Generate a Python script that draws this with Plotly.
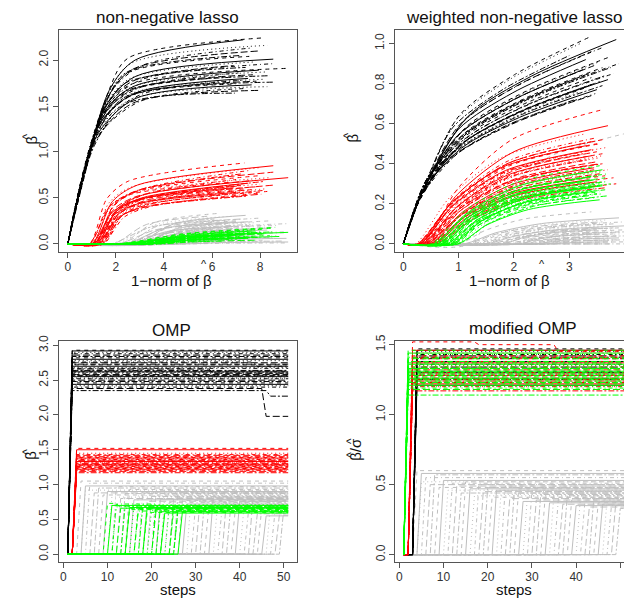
import plotly.graph_objects as go

# ================= DATA =================
# ---- top-left: non-negative lasso (x = 1-norm of beta-hat) ----
nnl_blk_split = [1.75, 1.72, 1.68, 1.64, 1.62, 1.58, 1.60, 1.52, 1.55, 1.50, 1.52, 1.48, 1.42, 1.46, 1.44,
                 1.45, 1.40, 1.38, 1.42, 1.36, 1.35, 1.30, 1.34, 1.26, 1.28, 1.22, 1.25, 1.18, 1.15, 1.10]
nnl_blk_knee_x = [2.5, 2.8, 2.6, 3.0, 2.7, 2.4]
nnl_blk_knee_y = [2.02, 2.00, 1.96, 1.93, 1.90, 1.86, 1.86, 1.82, 1.80, 1.78, 1.77, 1.75, 1.72, 1.72, 1.70,
                  1.70, 1.68, 1.66, 1.66, 1.64, 1.63, 1.62, 1.62, 1.60, 1.60, 1.58, 1.57, 1.55, 1.53, 1.52]
nnl_blk_end_x = [8.05, 7.30, 8.30, 7.60, 8.00, 7.20, 7.55, 8.55, 7.80, 8.50, 6.90, 7.40, 9.17, 7.95, 8.20,
                 7.10, 7.70, 8.40, 6.80, 7.50, 8.10, 7.25, 7.85, 8.60, 7.00, 7.65, 8.30, 7.35, 8.00, 6.95]
nnl_blk_end_y = [2.24, 2.22, 2.16, 2.13, 2.10, 2.05, 2.04, 2.01, 1.98, 1.96, 1.94, 1.92, 1.91, 1.89, 1.87,
                 1.86, 1.84, 1.83, 1.82, 1.80, 1.79, 1.78, 1.77, 1.76, 1.74, 1.73, 1.71, 1.69, 1.67, 1.64]

nnl_red_start = [0.90, 1.00, 0.95, 1.05, 1.10, 0.88, 1.15, 1.20, 1.00, 1.25, 1.10, 1.30, 0.92, 1.18, 1.35,
                 1.05, 1.40, 1.12, 1.28, 1.00, 1.45, 1.20, 1.30, 1.38, 1.50, 1.08, 1.25, 1.42, 1.33, 1.22]
nnl_red_rise = [1.6, 1.9, 1.7, 2.1, 1.8, 2.0]
nnl_red_knee_y = [0.68, 0.64, 0.62, 0.60, 0.58, 0.58, 0.56, 0.53, 0.55, 0.55, 0.52, 0.50, 0.53, 0.50, 0.49,
                  0.50, 0.47, 0.49, 0.47, 0.48, 0.44, 0.46, 0.45, 0.43, 0.42, 0.44, 0.42, 0.41, 0.40, 0.40]
nnl_red_end_x = [7.35, 8.55, 8.00, 7.60, 8.55, 7.20, 7.90, 9.17, 8.40, 7.00, 7.70, 8.20, 6.80, 7.50, 8.00,
                 7.30, 8.60, 7.10, 7.80, 6.90, 8.30, 7.40, 7.65, 8.10, 8.30, 7.00, 7.60, 7.90, 8.05, 7.45]
nnl_red_end_y = [0.88, 0.85, 0.83, 0.80, 0.78, 0.76, 0.74, 0.72, 0.72, 0.70, 0.69, 0.68, 0.67, 0.66, 0.65,
                 0.64, 0.64, 0.63, 0.62, 0.61, 0.60, 0.60, 0.59, 0.58, 0.57, 0.56, 0.56, 0.55, 0.54, 0.52]

nnl_grn_start = [2.2, 2.0, 2.6, 2.4, 2.8, 2.3, 3.0, 2.5, 2.9, 2.7, 3.2, 2.6, 2.5, 3.3, 3.0, 3.5, 2.9, 3.1,
                 3.6, 3.4, 3.8, 3.7, 3.2, 4.0, 2.1, 2.5, 2.8, 3.1, 2.4, 3.4, 2.7, 3.0, 3.6, 2.3]
nnl_grn_end_x = [8.63, 9.17, 7.70, 8.20, 7.40, 8.50, 6.90, 7.90, 7.20, 8.10, 6.60, 7.60, 8.40, 7.00, 7.80,
                 6.80, 7.30, 8.00, 6.50, 7.50, 7.10, 6.70, 7.90, 6.40, 8.50, 7.80, 8.00, 7.60, 8.30, 7.20,
                 6.90, 8.80, 7.40, 7.10]
nnl_grn_end_y = [0.18, 0.125, 0.15, 0.16, 0.14, 0.13, 0.12, 0.12, 0.11, 0.11, 0.10, 0.10, 0.09, 0.09, 0.08,
                 0.08, 0.07, 0.07, 0.06, 0.06, 0.05, 0.05, 0.04, 0.03, 0.17, 0.14, 0.13, 0.12, 0.11, 0.10,
                 0.09, 0.08, 0.07, 0.06]

nnl_gry_start = [2.2, 2.8, 2.0, 3.1, 2.5, 1.8, 3.4, 2.4, 3.0, 3.6, 2.1, 2.9, 3.3, 2.6, 3.2, 3.8, 2.7, 3.5,
                 2.3, 3.9, 3.1, 4.2, 2.8, 3.4, 3.7, 3.0, 4.4, 2.5, 3.6, 4.0, 3.3, 4.6, 3.5, 4.1, 3.0, 4.8,
                 3.8, 5.0, 4.3, 5.2, 1.9, 2.4, 2.7, 3.0, 3.3, 2.2, 3.6, 2.9, 4.0, 3.2, 2.6, 3.8, 4.5, 3.4]
nnl_gry_end_x = [6.2, 7.4, 6.8, 8.0, 7.2, 6.5, 8.4, 7.0, 7.8, 9.17, 6.6, 7.6, 8.2, 6.9, 7.4, 8.6, 7.1, 7.9,
                 6.4, 8.3, 7.5, 9.0, 6.7, 7.7, 8.1, 7.3, 8.8, 6.3, 7.8, 8.5, 7.0, 9.1, 7.6, 8.2, 6.6, 8.9,
                 7.3, 9.17, 8.0, 9.1, 5.8, 6.1, 7.0, 7.5, 6.6, 8.7, 6.9, 8.4, 7.7, 6.3, 7.2, 9.0, 8.1, 7.9]
nnl_gry_end_y = [0.33, 0.31, 0.30, 0.28, 0.27, 0.26, 0.25, 0.24, 0.23, 0.22, 0.22, 0.21, 0.20, 0.19, 0.18,
                 0.18, 0.17, 0.16, 0.15, 0.15, 0.14, 0.13, 0.12, 0.12, 0.11, 0.10, 0.09, 0.09, 0.08, 0.07,
                 0.06, 0.06, 0.05, 0.04, 0.04, 0.03, 0.02, 0.02, 0.01, 0.01, 0.30, 0.27, 0.25, 0.24, 0.21,
                 0.20, 0.19, 0.17, 0.16, 0.14, 0.13, 0.12, 0.10, 0.08]

# ---- top-right: weighted non-negative lasso ----
wnl_blk_split = [0.28, 0.34, 0.40, 0.31, 0.37, 0.44]
wnl_blk_end_x = [3.35, 3.85, 3.20, 3.60, 3.40, 3.00, 3.70, 3.30, 3.55, 3.90, 3.45, 3.75, 3.60, 3.25, 3.50,
                 3.80, 3.35, 3.65, 3.40, 3.70, 3.15, 3.55, 3.45, 3.60, 3.30, 3.50, 3.20, 3.47, 3.40, 3.10]
wnl_blk_end_y = [1.03, 1.02, 1.00, 0.98, 0.96, 0.94, 0.93, 0.92, 0.91, 0.90, 0.89, 0.88, 0.88, 0.87, 0.86,
                 0.85, 0.85, 0.84, 0.83, 0.82, 0.82, 0.81, 0.80, 0.79, 0.78, 0.77, 0.76, 0.75, 0.74, 0.72]

wnl_red_start = [0.35, 0.30, 0.22, 0.28, 0.25, 0.32, 0.30, 0.27, 0.35, 0.33, 0.38, 0.30, 0.40, 0.36, 0.42,
                 0.34, 0.45, 0.40, 0.38, 0.48, 0.44, 0.50, 0.42, 0.52, 0.47, 0.55, 0.50, 0.58, 0.60, 0.62,
                 0.25, 0.30, 0.38, 0.45, 0.33, 0.50, 0.40, 0.56]
wnl_red_end_x = [3.60, 3.70, 3.30, 3.50, 3.60, 3.40, 3.55, 3.30, 3.65, 3.45, 3.50, 3.25, 3.60, 3.40, 3.55,
                 3.35, 3.50, 3.60, 3.30, 3.45, 3.70, 3.40, 3.55, 3.50, 3.80, 3.35, 3.60, 3.85, 3.50, 3.65,
                 3.50, 3.40, 3.60, 3.30, 3.55, 3.45, 3.65, 3.50]
wnl_red_end_y = [0.67, 0.59, 0.55, 0.53, 0.52, 0.51, 0.50, 0.49, 0.48, 0.47, 0.46, 0.45, 0.45, 0.44, 0.43,
                 0.42, 0.41, 0.40, 0.39, 0.38, 0.37, 0.36, 0.35, 0.34, 0.33, 0.32, 0.31, 0.30, 0.29, 0.28,
                 0.50, 0.47, 0.44, 0.42, 0.40, 0.37, 0.34, 0.31]

wnl_grn_start = [0.50, 0.55, 0.60, 0.52, 0.65, 0.58, 0.70, 0.62, 0.75, 0.68, 0.72, 0.80, 0.66, 0.78, 0.85,
                 0.74, 0.82, 0.90, 0.76, 0.88, 0.95, 0.84, 0.92, 1.00, 0.86, 0.98, 0.55, 0.62, 0.70, 0.60,
                 0.78, 0.68, 0.85, 0.72]
wnl_grn_end_x = [3.55, 3.60, 3.40, 3.70, 3.50, 3.30, 3.65, 3.45, 3.60, 3.35, 3.55, 3.75, 3.40, 3.60, 3.50,
                 3.30, 3.65, 3.45, 3.55, 3.40, 3.60, 3.50, 3.35, 3.70, 3.45, 3.55, 3.60, 3.50, 3.45, 3.65,
                 3.55, 3.40, 3.60, 3.50]
wnl_grn_end_y = [0.39, 0.37, 0.36, 0.35, 0.34, 0.33, 0.33, 0.32, 0.31, 0.31, 0.30, 0.30, 0.29, 0.29, 0.28,
                 0.28, 0.27, 0.27, 0.26, 0.26, 0.25, 0.25, 0.24, 0.24, 0.23, 0.22, 0.36, 0.34, 0.32, 0.31,
                 0.29, 0.28, 0.27, 0.25]

wnl_gry_start = [1.0, 1.1, 1.2, 1.3, 1.15, 1.4, 1.25, 1.5, 1.35, 1.6, 1.45, 1.7, 1.55, 1.8, 1.65, 1.9, 1.75,
                 2.0, 1.85, 2.1, 1.95, 2.2, 2.05, 2.3, 2.15, 2.4, 2.25, 2.5, 2.35, 2.6, 2.45, 2.7, 2.55,
                 2.8, 2.65, 2.9, 1.2]
wnl_gry_end_x = [3.4, 3.9, 3.7, 4.0, 3.6, 3.8, 3.5, 4.0, 3.7, 3.9, 3.6, 3.8, 4.0, 3.5, 3.75, 3.9, 3.65,
                 4.0, 3.8, 3.55, 3.95, 3.7, 3.85, 4.0, 3.6, 3.9, 3.75, 4.0, 3.65, 3.85, 4.0, 3.7, 3.9,
                 4.0, 3.8, 3.6, 4.0]
wnl_gry_end_y = [0.16, 0.13, 0.12, 0.11, 0.11, 0.10, 0.10, 0.09, 0.09, 0.08, 0.08, 0.08, 0.07, 0.07, 0.07,
                 0.06, 0.06, 0.06, 0.05, 0.05, 0.05, 0.04, 0.04, 0.04, 0.03, 0.03, 0.03, 0.02, 0.02, 0.02,
                 0.01, 0.01, 0.01, 0.0, 0.0, 0.0, 0.55]

# ---- bottom-left: OMP (x = steps) ----
steps = list(range(1, 52))
omp_blk_entry = 2
omp_blk_val = [2.93, 2.92, 2.90, 2.88, 2.86, 2.84, 2.82, 2.80, 2.78, 2.76, 2.75, 2.73, 2.72, 2.70, 2.68,
               2.67, 2.66, 2.64, 2.63, 2.62, 2.61, 2.60, 2.58, 2.57, 2.56, 2.55, 2.53, 2.52, 2.50, 2.48,
               2.46, 2.44, 2.42, 2.40, 2.38, 2.35]
omp_blk_chg_idx = [35, 34, 16, 9]
omp_blk_chg_step = [47, 46, 34, 44]
omp_blk_chg_val = [2.27, 1.98, 2.60, 2.70]

omp_red_entry = 3
omp_red_val = [1.52, 1.50, 1.45, 1.43, 1.42, 1.40, 1.39, 1.38, 1.37, 1.36, 1.35, 1.34, 1.33, 1.33, 1.32,
               1.31, 1.30, 1.29, 1.28, 1.28, 1.27, 1.26, 1.25, 1.24, 1.23, 1.22, 1.21, 1.20, 1.19, 1.17]

omp_grn_entry = [10, 11, 12, 12, 13, 14, 15, 15, 16, 17, 17, 18, 19, 19, 20, 21, 21, 22, 23, 23, 24, 25,
                 25, 26, 26, 27]
omp_grn_val = [0.73, 0.70, 0.68, 0.72, 0.66, 0.69, 0.64, 0.67, 0.71, 0.62, 0.65, 0.68, 0.60, 0.66, 0.63,
               0.70, 0.61, 0.67, 0.64, 0.59, 0.66, 0.62, 0.69, 0.63, 0.65, 0.61]
omp_grn_chg_idx = [0, 3]
omp_grn_chg_step = [13, 22]
omp_grn_chg_val = [0.66, 0.62]

omp_gry_entry = [4, 5, 5, 6, 7, 8, 9, 10, 11, 12, 13, 14, 15, 16, 17, 18, 19, 20, 21, 22, 23, 24, 25, 26,
                 27, 28, 29, 30, 31, 32, 33, 34, 35, 36, 37, 38, 39, 40, 41, 42, 43, 44, 45, 46, 47, 48,
                 49, 50]
omp_gry_val = [1.05, 0.98, 0.92, 1.02, 0.88, 0.95, 0.85, 0.90, 0.82, 0.97, 0.80, 0.87, 0.93, 0.78, 0.84,
               0.89, 0.76, 0.83, 0.91, 0.79, 0.86, 0.74, 0.81, 0.88, 0.77, 0.72, 0.84, 0.70, 0.79, 0.75,
               0.68, 0.82, 0.73, 0.66, 0.78, 0.71, 0.64, 0.76, 0.69, 0.62, 0.80, 0.58, 0.67, 0.55, 0.72,
               0.60, 0.56, 0.65]

# ---- bottom-right: modified OMP ----
mod_grn_entry = 2
mod_grn_val = [1.46, 1.44, 1.43, 1.41, 1.40, 1.38, 1.37, 1.36, 1.35, 1.34, 1.33, 1.33, 1.32, 1.31, 1.30,
               1.30, 1.29, 1.28, 1.27, 1.26, 1.25, 1.25, 1.24, 1.23, 1.22, 1.21, 1.20, 1.19, 1.18, 1.14]
mod_red_entry = 3
mod_red_val = [1.52, 1.46, 1.44, 1.42, 1.41, 1.40, 1.38, 1.37, 1.35, 1.34, 1.32, 1.30, 1.29, 1.28, 1.27,
               1.26, 1.25, 1.24, 1.23, 1.22, 1.21, 1.20, 1.18, 1.17]
mod_red_chg_idx = [0, 0]
mod_red_chg_step = [18, 36]
mod_red_chg_val = [1.50, 1.45]
mod_blk_entry = 4
mod_blk_val = [1.47, 1.46, 1.45, 1.43, 1.42, 1.41, 1.40, 1.38, 1.37, 1.36, 1.34, 1.33, 1.31, 1.30, 1.29,
               1.28, 1.26, 1.25, 1.23, 1.21]
mod_gry_entry = omp_gry_entry
mod_gry_val = [0.60, 0.58, 0.52, 0.55, 0.50, 0.57, 0.48, 0.53, 0.46, 0.51, 0.49, 0.44, 0.52, 0.47, 0.42,
               0.50, 0.45, 0.48, 0.41, 0.46, 0.43, 0.49, 0.40, 0.44, 0.47, 0.38, 0.42, 0.45, 0.39, 0.43,
               0.41, 0.37, 0.44, 0.40, 0.36, 0.42, 0.39, 0.35, 0.41, 0.38, 0.34, 0.40, 0.37, 0.36, 0.39,
               0.35, 0.38, 0.33]

# ================= STYLE =================
BLACK, RED, GREEN, GRAY = "#000000", "#FF0000", "#00FF00", "#BEBEBE"
DASHES = ["4px,4px", "solid", "1px,3px", "1px,3px,4px,3px", "7px,3px", "2px,2px,6px,2px"]
FONT = "Liberation Sans, Arial, Helvetica, sans-serif"
W, H = 624, 601

groups = {}
order = []


def add(panel, color, i, xs, ys):
    key = (panel, color, DASHES[i % len(DASHES)])
    if key not in groups:
        groups[key] = ([], [])
        order.append(key)
    gx, gy = groups[key]
    gx.extend(list(xs) + [None])
    gy.extend(list(ys) + [None])


# ---- top-left paths ----
for i, ye in enumerate(nnl_gry_end_y):
    x0, xe = nnl_gry_start[i], nnl_gry_end_x[i]
    add(1, GRAY, i, [0, x0, x0 + 0.35 * (xe - x0), xe], [0, 0, 0.7 * ye, ye])
for i, ye in enumerate(nnl_blk_end_y):
    s = nnl_blk_split[i]
    add(1, BLACK, i, [0, s, nnl_blk_knee_x[i % 6], nnl_blk_end_x[i]],
        [0, 0.97 * s, nnl_blk_knee_y[i], ye])
for i, ye in enumerate(nnl_red_end_y):
    x0 = nnl_red_start[i]
    dk = nnl_red_rise[i % 6]
    yk = nnl_red_knee_y[i]
    add(1, RED, i, [0, x0, x0 + 0.45 * dk, x0 + dk, nnl_red_end_x[i]], [0, 0, 0.72 * yk, yk, ye])
for i, ye in enumerate(nnl_grn_end_y):
    x0, xe = nnl_grn_start[i], nnl_grn_end_x[i]
    add(1, GREEN, i, [0, x0, x0 + 0.4 * (xe - x0), xe], [0, 0, 0.6 * ye, ye])


# ---- top-right paths ----
def concave(x0, xe, ye):
    d = xe - x0
    return [0, x0, x0 + 0.2 * d, x0 + 0.5 * d, xe], [0, 0, 0.42 * ye, 0.78 * ye, ye]


for i, ye in enumerate(wnl_gry_end_y):
    xs, ys = concave(wnl_gry_start[i], wnl_gry_end_x[i], ye)
    add(2, GRAY, i, xs, ys)
for i, ye in enumerate(wnl_blk_end_y):
    s, xe = wnl_blk_split[i % 6], wnl_blk_end_x[i]
    add(2, BLACK, i, [0, s, 0.3 * xe, 0.6 * xe, xe], [0, 0.75 * s, 0.62 * ye, 0.82 * ye, ye])
for i, ye in enumerate(wnl_red_end_y):
    xs, ys = concave(wnl_red_start[i], wnl_red_end_x[i], ye)
    add(2, RED, i, xs, ys)
for i, ye in enumerate(wnl_grn_end_y):
    xs, ys = concave(wnl_grn_start[i], wnl_grn_end_x[i], ye)
    add(2, GREEN, i, xs, ys)


# ---- OMP-type step paths ----
def step_path(entry, val, changes):
    ys = []
    for st in steps:
        v = 0.0 if st < entry else val
        for cs, cv in changes:
            if st >= cs:
                v = cv
        ys.append(v)
    return steps, ys


def changes_for(i, idx, stp, val):
    return [(stp[k], val[k]) for k in range(len(idx)) if idx[k] == i]


for i, v in enumerate(omp_gry_val):
    add(3, GRAY, i, *step_path(omp_gry_entry[i], v, []))
for i, v in enumerate(omp_blk_val):
    add(3, BLACK, i, *step_path(omp_blk_entry, v,
                                changes_for(i, omp_blk_chg_idx, omp_blk_chg_step, omp_blk_chg_val)))
for i, v in enumerate(omp_red_val):
    add(3, RED, i, *step_path(omp_red_entry, v, []))
for i, v in enumerate(omp_grn_val):
    add(3, GREEN, i, *step_path(omp_grn_entry[i], v,
                                changes_for(i, omp_grn_chg_idx, omp_grn_chg_step, omp_grn_chg_val)))

for i, v in enumerate(mod_gry_val):
    add(4, GRAY, i, *step_path(mod_gry_entry[i], v, []))
for i, v in enumerate(mod_blk_val):
    add(4, BLACK, i, *step_path(mod_blk_entry, v, []))
for i, v in enumerate(mod_red_val):
    add(4, RED, i, *step_path(mod_red_entry, v,
                              changes_for(i, mod_red_chg_idx, mod_red_chg_step, mod_red_chg_val)))
for i, v in enumerate(mod_grn_val):
    add(4, GREEN, i, *step_path(mod_grn_entry, v, []))

fig = go.Figure()
for key in order:
    panel, color, dash = key
    gx, gy = groups[key]
    sfx = "" if panel == 1 else str(panel)
    fig.add_trace(go.Scatter(
        x=gx, y=gy, mode="lines", xaxis="x" + sfx, yaxis="y" + sfx,
        line=dict(color=color, width=1, dash=dash, shape="spline" if panel <= 2 else "linear",
                  smoothing=0.8),
        hoverinfo="skip", showlegend=False, connectgaps=False))


def px_x(p):
    return p / W


def px_y(p):
    return (H - p) / H


axis_common = dict(showgrid=False, zeroline=False, showline=True, linecolor="#555", linewidth=1,
                   ticks="outside", ticklen=5, tickcolor="#555", tickwidth=1,
                   tickfont=dict(family=FONT, size=12, color="#333"))
x_common = dict(ticklabelstandoff=-2, **axis_common)
y_common = dict(tickangle=-90, **axis_common)

top_dom = [px_y(248), px_y(23)]
bot_dom = [px_y(561.7), px_y(337.7)]

fig.update_layout(
    width=W, height=H, margin=dict(l=0, r=0, t=0, b=0),
    paper_bgcolor="white", plot_bgcolor="white", hovermode=False,
    xaxis=dict(domain=[px_x(59), px_x(297)], range=[-0.367, 9.537], tickvals=[0, 2, 4, 6, 8],
               anchor="y", mirror=True, **x_common),
    yaxis=dict(domain=top_dom, range=[-0.09, 2.33], tickvals=[0, 0.5, 1, 1.5, 2],
               ticktext=["0.0", "0.5", "1.0", "1.5", "2.0"], anchor="x", mirror=True, **y_common),
    xaxis2=dict(domain=[px_x(394.7), 1.0], range=[-0.156, 3.99], tickvals=[0, 1, 2, 3, 4],
                anchor="y2", mirror=True, **x_common),
    yaxis2=dict(domain=top_dom, range=[-0.041, 1.069], tickvals=[0, 0.2, 0.4, 0.6, 0.8, 1.0],
                ticktext=["0.0", "0.2", "0.4", "0.6", "0.8", "1.0"], anchor="x2", **y_common),
    xaxis3=dict(domain=[px_x(59), px_x(297)], range=[-1, 53], tickvals=[0, 10, 20, 30, 40, 50],
                anchor="y3", mirror=True, **x_common),
    yaxis3=dict(domain=bot_dom, range=[-0.115, 3.066], tickvals=[0, 0.5, 1, 1.5, 2, 2.5, 3],
                ticktext=["0.0", "0.5", "1.0", "1.5", "2.0", "2.5", "3.0"], anchor="x3", mirror=True,
                **y_common),
    xaxis4=dict(domain=[px_x(395.3), 1.0], range=[-0.905, 50.84], tickvals=[0, 10, 20, 30, 40, 50],
                anchor="y4", mirror=True, **x_common),
    yaxis4=dict(domain=bot_dom, range=[-0.054, 1.528], tickvals=[0, 0.5, 1, 1.5],
                ticktext=["0.0", "0.5", "1.0", "1.5"], anchor="x4", **y_common),
)

B = "\u03b2"
S = "\u03c3"
texts = [
    ("non-negative lasso", 167.5, 11, 17, 0),
    ("weighted non-negative lasso", 513.6, 11, 17, 0),
    ("OMP", 171.3, 327, 17, 0),
    ("modified OMP", 523, 325, 17, 0),
    ("1\u2212norm of " + B, 171, 277, 15, 0),
    ("1\u2212norm of " + B, 509, 277, 15, 0),
    ("steps", 178, 589, 15, 0),
    ("steps", 514, 589, 15, 0),
    (B, 31, 134, 15, -90),
    (B, 352, 133, 15, -90),
    (B, 31, 453, 15, -90),
    (B + "/" + S, 356, 448, 15, -90),
    # hats of the beta-hat / sigma-hat symbols
    ("^", 204, 260, 11, 0),
    ("^", 542, 260, 11, 0),
    ("^", 27, 131, 12, -90),
    ("^", 348, 130, 12, -90),
    ("^", 27, 450, 12, -90),
    ("^", 351, 453, 12, -90),
    ("^", 351, 439, 12, -90),
]
for t, x, y, sz, ang in texts:
    fig.add_annotation(text=t, x=px_x(x), y=px_y(y), xref="paper", yref="paper", showarrow=False,
                       xanchor="center", yanchor="middle", textangle=ang,
                       font=dict(family=FONT, size=sz, color="#111"))

fig.write_html("out.html")
